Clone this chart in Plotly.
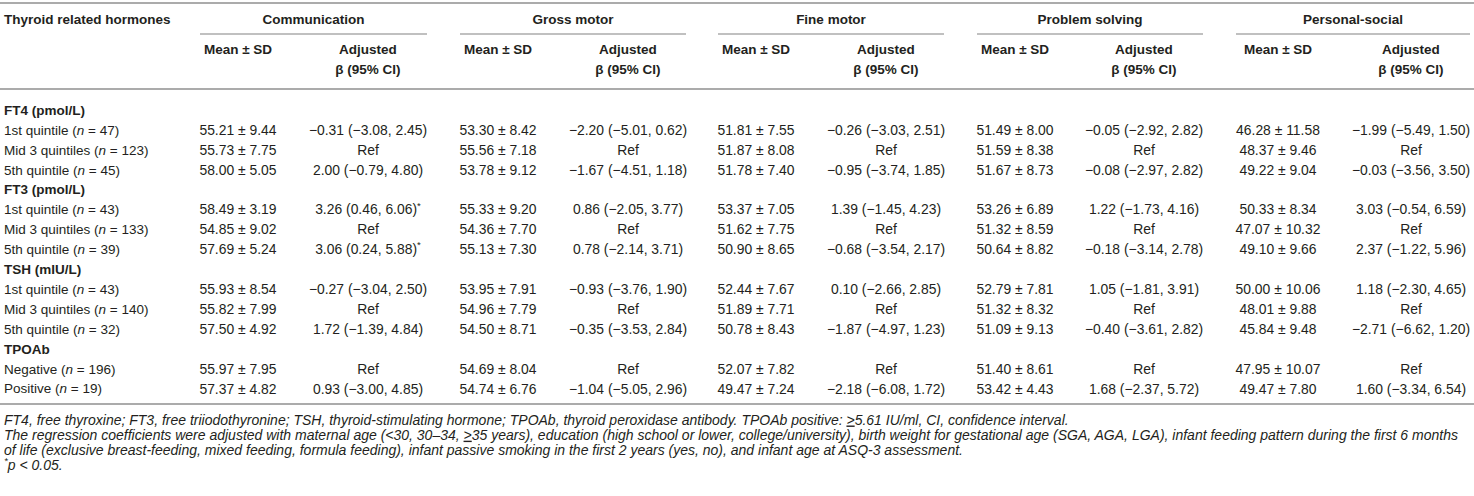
import plotly.graph_objects as go

domains = ["Communication", "Gross motor", "Fine motor", "Problem solving", "Personal-social"]
hormones = ["FT4 (pmol/L)", "FT3 (pmol/L)", "TSH (mIU/L)", "TPOAb"]
row_labels = ["1st quintile", "Mid 3 quintiles", "5th quintile",
              "1st quintile", "Mid 3 quintiles", "5th quintile",
              "1st quintile", "Mid 3 quintiles", "5th quintile",
              "Negative", "Positive"]
row_n = [47, 123, 45, 43, 133, 39, 43, 140, 32, 196, 19]
row_hormone = [0, 0, 0, 1, 1, 1, 2, 2, 2, 3, 3]

comm_mean = [55.21, 55.73, 58.00, 58.49, 54.85, 57.69, 55.93, 55.82, 57.50, 55.97, 57.37]
comm_sd = [9.44, 7.75, 5.05, 3.19, 9.02, 5.24, 8.54, 7.99, 4.92, 7.95, 4.82]
comm_beta = [(-0.31, -3.08, 2.45), None, (2.00, -0.79, 4.80),
             (3.26, 0.46, 6.06), None, (3.06, 0.24, 5.88),
             (-0.27, -3.04, 2.50), None, (1.72, -1.39, 4.84),
             None, (0.93, -3.00, 4.85)]
comm_sig = [0, 0, 0, 1, 0, 1, 0, 0, 0, 0, 0]

gross_mean = [53.30, 55.56, 53.78, 55.33, 54.36, 55.13, 53.95, 54.96, 54.50, 54.69, 54.74]
gross_sd = [8.42, 7.18, 9.12, 9.20, 7.70, 7.30, 7.91, 7.79, 8.71, 8.04, 6.76]
gross_beta = [(-2.20, -5.01, 0.62), None, (-1.67, -4.51, 1.18),
              (0.86, -2.05, 3.77), None, (0.78, -2.14, 3.71),
              (-0.93, -3.76, 1.90), None, (-0.35, -3.53, 2.84),
              None, (-1.04, -5.05, 2.96)]
gross_sig = [0] * 11

fine_mean = [51.81, 51.87, 51.78, 53.37, 51.62, 50.90, 52.44, 51.89, 50.78, 52.07, 49.47]
fine_sd = [7.55, 8.08, 7.40, 7.05, 7.75, 8.65, 7.67, 7.71, 8.43, 7.82, 7.24]
fine_beta = [(-0.26, -3.03, 2.51), None, (-0.95, -3.74, 1.85),
             (1.39, -1.45, 4.23), None, (-0.68, -3.54, 2.17),
             (0.10, -2.66, 2.85), None, (-1.87, -4.97, 1.23),
             None, (-2.18, -6.08, 1.72)]
fine_sig = [0] * 11

prob_mean = [51.49, 51.59, 51.67, 53.26, 51.32, 50.64, 52.79, 51.32, 51.09, 51.40, 53.42]
prob_sd = [8.00, 8.38, 8.73, 6.89, 8.59, 8.82, 7.81, 8.32, 9.13, 8.61, 4.43]
prob_beta = [(-0.05, -2.92, 2.82), None, (-0.08, -2.97, 2.82),
             (1.22, -1.73, 4.16), None, (-0.18, -3.14, 2.78),
             (1.05, -1.81, 3.91), None, (-0.40, -3.61, 2.82),
             None, (1.68, -2.37, 5.72)]
prob_sig = [0] * 11

pers_mean = [46.28, 48.37, 49.22, 50.33, 47.07, 49.10, 50.00, 48.01, 45.84, 47.95, 49.47]
pers_sd = [11.58, 9.46, 9.04, 8.34, 10.32, 9.66, 10.06, 9.88, 9.48, 10.07, 7.80]
pers_beta = [(-1.99, -5.49, 1.50), None, (-0.03, -3.56, 3.50),
             (3.03, -0.54, 6.59), None, (2.37, -1.22, 5.96),
             (1.18, -2.30, 4.65), None, (-2.71, -6.62, 1.20),
             None, (1.60, -3.34, 6.54)]
pers_sig = [0] * 11

footnotes = [
    "FT4, free thyroxine; FT3, free triiodothyronine; TSH, thyroid-stimulating hormone; "
    "TPOAb, thyroid peroxidase antibody. TPOAb positive: <u>&gt;</u>5.61 IU/ml, CI, confidence interval.",
    "The regression coefficients were adjusted with maternal age (&lt;30, 30–34, <u>&gt;</u>35 years), "
    "education (high school or lower, college/university), birth weight for gestational age (SGA, AGA, LGA), "
    "infant feeding pattern during the first 6 months",
    "of life (exclusive breast-feeding, mixed feeding, formula feeding), infant passive smoking in the "
    "first 2 years (yes, no), and infant age at ASQ-3 assessment.",
    "<sup>*</sup>p &lt; 0.05.",
]

means = [comm_mean, gross_mean, fine_mean, prob_mean, pers_mean]
sds = [comm_sd, gross_sd, fine_sd, prob_sd, pers_sd]
betas = [comm_beta, gross_beta, fine_beta, prob_beta, pers_beta]
sigs = [comm_sig, gross_sig, fine_sig, prob_sig, pers_sig]

# layout (pixel space)
W, H = 1474, 496
FONT = "Liberation Sans, Arial, Helvetica, sans-serif"
INK = "#231f20"
RULE = "#ababab"
left_x = 4
mean_x = [238, 498, 756, 1015, 1278]
beta_x = [368, 628, 886, 1144, 1411]
group_x0 = [200, 460, 718, 977, 1236]
group_x1 = [427, 686, 944, 1203, 1470]
row_y0, row_step = 111.5, 19.9
foot_y0, foot_step = 421, 15.2


def num(v):
    return f"{v:.2f}".replace("-", "\u2212")


fig = go.Figure()

# body rows: hormone header then its quintile rows
lab_x, lab_y, lab_t = [], [], []
cell_x, cell_y, cell_t = [], [], []
r = 0
for h, hname in enumerate(hormones):
    lab_x.append(left_x)
    lab_y.append(row_y0 + r * row_step)
    lab_t.append(f"<b>{hname}</b>")
    r += 1
    for i in [k for k in range(len(row_labels)) if row_hormone[k] == h]:
        y = row_y0 + r * row_step
        lab_x.append(left_x)
        lab_y.append(y)
        lab_t.append(f"{row_labels[i]} (<i>n</i> = {row_n[i]})")
        for d in range(len(domains)):
            cell_x.append(mean_x[d])
            cell_y.append(y)
            cell_t.append(f"{num(means[d][i])} ± {num(sds[d][i])}")
            b = betas[d][i]
            if b is None:
                txt = "Ref"
            else:
                txt = f"{num(b[0])} ({num(b[1])}, {num(b[2])})"
                if sigs[d][i]:
                    txt += "<sup>*</sup>"
            cell_x.append(beta_x[d])
            cell_y.append(y)
            cell_t.append(txt)
        r += 1

fig.add_trace(go.Scatter(x=lab_x, y=lab_y, text=lab_t, mode="text",
                         textposition="middle right", cliponaxis=False,
                         textfont=dict(family=FONT, size=13.5, color=INK)))
fig.add_trace(go.Scatter(x=cell_x, y=cell_y, text=cell_t, mode="text",
                         textposition="middle center", cliponaxis=False,
                         textfont=dict(family=FONT, size=13.9, color=INK)))

# header
hx = [left_x]
hy = [21]
ht = ["<b>Thyroid related hormones</b>"]
for d, name in enumerate(domains):
    hx += [(group_x0[d] + group_x1[d]) / 2, mean_x[d], beta_x[d], beta_x[d]]
    hy += [21, 51, 51, 71]
    ht += [f"<b>{name}</b>", "<b>Mean ± SD</b>", "<b>Adjusted</b>", "<b>β (95% CI)</b>"]
fig.add_trace(go.Scatter(x=hx[:1], y=hy[:1], text=ht[:1], mode="text",
                         textposition="middle right", cliponaxis=False,
                         textfont=dict(family=FONT, size=13.5, color=INK)))
fig.add_trace(go.Scatter(x=hx[1:], y=hy[1:], text=ht[1:], mode="text",
                         textposition="middle center", cliponaxis=False,
                         textfont=dict(family=FONT, size=13.5, color=INK)))

# footnotes
fig.add_trace(go.Scatter(x=[left_x] * len(footnotes),
                         y=[foot_y0 + k * foot_step for k in range(len(footnotes))],
                         text=[f"<i>{t}</i>" for t in footnotes], mode="text",
                         textposition="middle right", cliponaxis=False,
                         textfont=dict(family=FONT, size=14, color=INK)))

# rules
for y in [3, 89, 404]:
    fig.add_shape(type="line", x0=0, x1=W, y0=y, y1=y, xref="x", yref="y",
                  line=dict(color=RULE, width=2))
for d in range(len(domains)):
    fig.add_shape(type="line", x0=group_x0[d], x1=group_x1[d], y0=34, y1=34,
                  xref="x", yref="y", line=dict(color=RULE, width=1.5))

fig.update_layout(width=W, height=H, margin=dict(l=0, r=0, t=0, b=0),
                  paper_bgcolor="white", plot_bgcolor="white", showlegend=False)
fig.update_xaxes(range=[0, W], visible=False, fixedrange=True)
fig.update_yaxes(range=[H, 0], visible=False, fixedrange=True)

fig.write_html("out.html", post_script="document.body.style.margin = '0';",
               config={"displayModeBar": False})
